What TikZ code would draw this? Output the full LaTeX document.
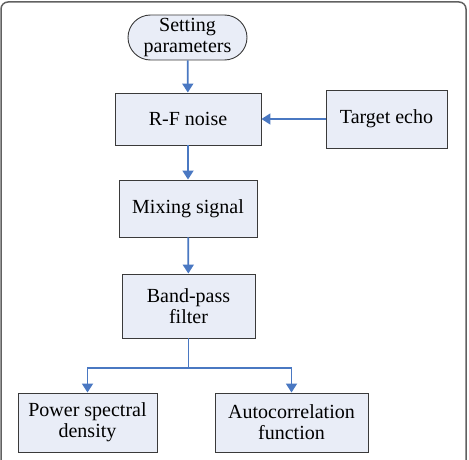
\documentclass[tikz,border=0pt]{standalone}
\usepackage{fontspec}
\setmainfont{Liberation Serif}
\usetikzlibrary{arrows.meta,positioning,shapes.misc}

\definecolor{boxfill}{HTML}{E9EDF7}
\definecolor{flowblue}{HTML}{4A78C2}
\definecolor{edgegray}{HTML}{3A3A3A}

\begin{document}
\begin{tikzpicture}[x=1pt, y=-1pt, >={Triangle[width=11pt,length=9pt]},
  stagebox/.style={draw=edgegray, fill=boxfill, line width=0.9pt, align=center,
    font=\fontsize{20}{21}\selectfont, inner sep=2pt},
  flow/.style={->, draw=flowblue, line width=1.8pt}]
\useasboundingbox (0,0) rectangle (469,460);
\clip (0,0) rectangle (469,460);

% outer frame
\draw[edgegray!80, line width=1.5pt, rounded corners=7pt] (1,2) rectangle (466,490);

% stages
\node[stagebox, rounded rectangle, minimum width=121pt, minimum height=45pt, inner sep=1pt] (set) at (187.5,37.5) {Setting\\parameters};
\node[stagebox, minimum width=146pt, minimum height=52pt] (rf) at (188,119) {R-F noise};
\node[stagebox, minimum width=121pt, minimum height=58pt] (echo) at (386.5,119) {Target echo};
\node[stagebox, minimum width=138pt, minimum height=57pt] (mix) at (188,208.5) {Mixing signal};
\node[stagebox, minimum width=133pt, minimum height=64pt] (bpf) at (188.5,306) {Band-pass\\filter};
\node[stagebox, minimum width=139pt, minimum height=59pt] (psd) at (87.5,422.5) {Power spectral\\density};
\node[stagebox, minimum width=153pt, minimum height=59pt] (acf) at (291.5,422.5) {Autocorrelation\\function};

% connectors
\coordinate (split) at (188.5,368);
\draw[flow] (set) -- (rf);
\draw[flow] (echo) -- (rf);
\draw[flow] (rf) -- (mix);
\draw[flow] (mix) -- (bpf);
\draw[draw=flowblue, line width=1.8pt] (bpf) -- (split);
\draw[flow] (split) -| (psd.north);
\draw[flow] (split) -| (acf.north);
\end{tikzpicture}
\end{document}
